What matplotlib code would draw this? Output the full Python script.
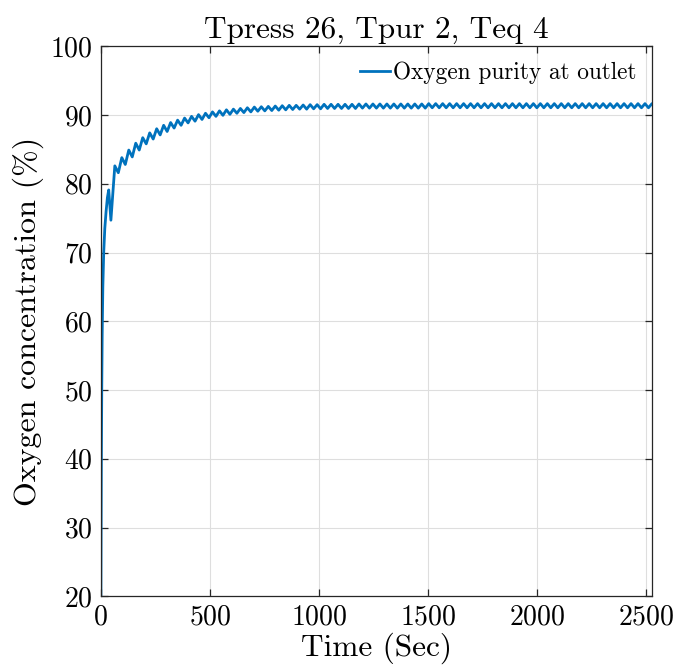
import numpy as np
import matplotlib
matplotlib.use("Agg")
import matplotlib.pyplot as plt

# Cycle timing (s): pressurisation + purge + equalisation
t_press, t_pur, t_eq = 26, 2, 4
cycle_time = t_press + t_pur + t_eq

# Start-up transient of the outlet purity (time s, purity %)
startup_time = [0, 2, 4, 6, 9, 13, 18, 24, 30, 36, 46]
startup_purity = [20.0, 38.0, 50.0, 58.0, 65.0, 70.0, 73.5, 76.0, 78.0, 79.1, 74.7]

# Per-cycle maximum and minimum purity (%) after the start-up
first_peak_time = 64
peak_purity = [
    82.6, 83.8, 84.9, 85.9, 86.7, 87.4, 88.0, 88.5, 88.9, 89.25,
    89.55, 89.8, 90.05, 90.25, 90.45, 90.6, 90.75, 90.85, 90.95, 91.05,
    91.15, 91.2, 91.25, 91.3, 91.35, 91.4, 91.4, 91.45, 91.5, 91.5,
    91.55, 91.55, 91.55, 91.55, 91.55, 91.6, 91.6, 91.6, 91.6, 91.6,
    91.6, 91.6, 91.6, 91.6, 91.6, 91.65, 91.65, 91.65, 91.65, 91.65,
    91.65, 91.65, 91.65, 91.65, 91.65, 91.65, 91.65, 91.65, 91.65, 91.65,
    91.65, 91.65, 91.65, 91.65, 91.65, 91.65, 91.65, 91.65, 91.65, 91.65,
    91.65, 91.65, 91.65, 91.65, 91.65, 91.65, 91.65, 91.65,
]
trough_purity = [
    81.6, 82.8, 83.9, 84.9, 85.8, 86.5, 87.1, 87.6, 88.1, 88.5,
    88.85, 89.1, 89.35, 89.6, 89.8, 89.95, 90.1, 90.25, 90.35, 90.45,
    90.55, 90.6, 90.65, 90.7, 90.75, 90.8, 90.85, 90.85, 90.9, 90.9,
    90.95, 90.95, 90.95, 90.95, 90.95, 91.0, 91.0, 91.0, 91.0, 91.0,
    91.0, 91.0, 91.0, 91.0, 91.0, 91.05, 91.05, 91.05, 91.05, 91.05,
    91.05, 91.05, 91.05, 91.05, 91.05, 91.05, 91.05, 91.05, 91.05, 91.05,
    91.05, 91.05, 91.05, 91.05, 91.05, 91.05, 91.05, 91.05, 91.05, 91.05,
    91.05, 91.05, 91.05, 91.05, 91.05, 91.05, 91.05, 91.05,
]

x_ticks = [0, 500, 1000, 1500, 2000, 2500]
y_ticks = [20, 30, 40, 50, 60, 70, 80, 90, 100]

# Assemble the time series: start-up, then alternating cycle max / min
n_cycles = len(peak_purity)
cycle_idx = np.arange(n_cycles)
peak_t = first_peak_time + cycle_time * cycle_idx
trough_t = peak_t + cycle_time / 2
cyc_t = np.column_stack([peak_t, trough_t]).ravel()
cyc_v = np.column_stack([peak_purity, trough_purity]).ravel()
time = np.concatenate([startup_time, cyc_t])
purity = np.concatenate([startup_purity, cyc_v])

plt.rcParams["font.family"] = ["cmr10", "DejaVu Serif"]
plt.rcParams["mathtext.fontset"] = "cm"
plt.rcParams["axes.formatter.use_mathtext"] = True

fig = plt.figure(figsize=(6.77, 6.70), dpi=100)
ax = fig.add_axes([0.149, 0.110, 0.814, 0.821])

ax.plot(time, purity, color="#0072BD", lw=2.0,
        label="Oxygen purity at outlet")

ax.set_xlim(0, 2528)
ax.set_ylim(20, 100)
ax.set_xticks(x_ticks)
ax.set_yticks(y_ticks)
ax.grid(True, color="#dedede", lw=0.8)
ax.set_axisbelow(True)

for s in ax.spines.values():
    s.set_color("#262626")
    s.set_linewidth(0.9)
ax.tick_params(direction="in", top=True, right=True, length=5,
               width=0.9, color="#262626", labelsize=20, pad=6)

ax.set_title("Tpress 26, Tpur 2, Teq 4", fontsize=22.5, pad=6)
ax.set_xlabel("Time (Sec)", fontsize=22.5, labelpad=1)
ax.set_ylabel("Oxygen concentration (%)", fontsize=23, labelpad=4)

ax.legend(loc="upper right", frameon=False, fontsize=16.8,
          handlelength=1.3, handletextpad=0.15, borderaxespad=0.25)

fig.savefig("out.png", dpi=100)
